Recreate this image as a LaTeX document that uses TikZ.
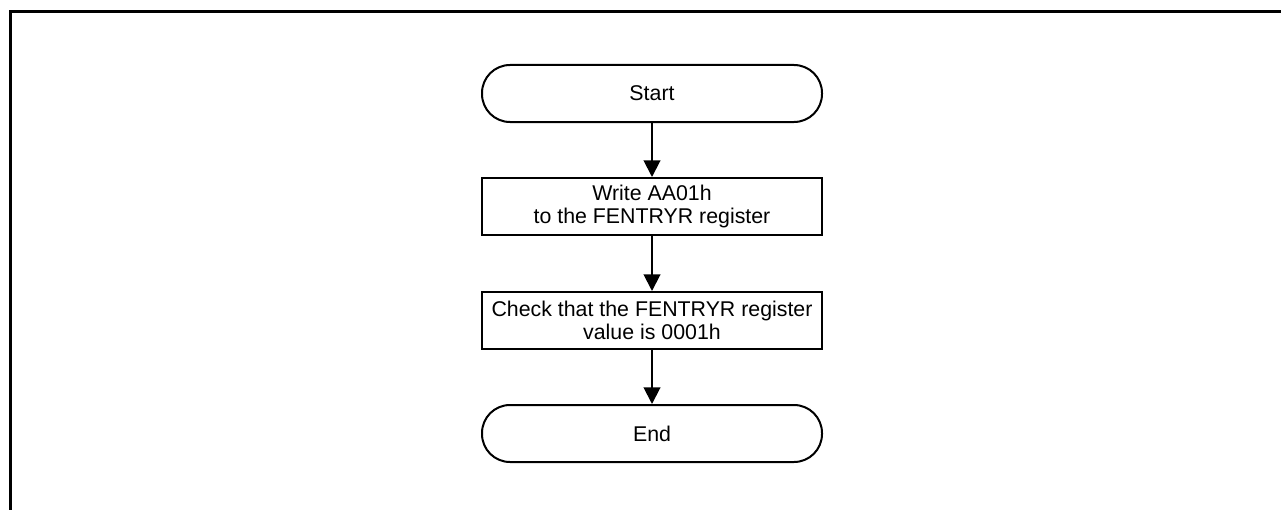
\documentclass[tikz,border=0pt]{standalone}
\usepackage{fontspec}
\setmainfont{Liberation Sans}
\usetikzlibrary{arrows.meta}

\tikzset{every picture/.style={line width=1.5pt}}
\tikzset{
terminal/.style={draw, rectangle, rounded corners=21pt, minimum width=255pt, minimum height=42.75pt, align=center, font=\fontsize{16}{17.5}\selectfont},
process/.style={draw, rectangle, minimum width=255pt, minimum height=42.75pt, align=center, font=\fontsize{16}{17.5}\selectfont},
flow/.style={-{Triangle[length=12.5pt,width=12.5pt]}}}

\begin{document}
\begin{tikzpicture}[x=0.75pt,y=0.75pt,yscale=-1,xscale=1]

\useasboundingbox (0,0) rectangle (1281,510);

% FRAME

\draw [line width=2.25pt] (10.5,510) -- (10.5,12) -- (1281,12);

% NODES

\node [terminal] (start) at (652,93.5) {Start};
\node [process] (write) at (652,206.5) {Write AA01h\\to the FENTRYR register};
\node [process] (check) at (652,320.5) {Check that the FENTRYR register\\value is 0001h};
\node [terminal] (end) at (652,433.5) {End};

% ARROWS

\draw [flow] (start) -- (write);
\draw [flow] (write) -- (check);
\draw [flow] (check) -- (end);

\end{tikzpicture}
\end{document}
